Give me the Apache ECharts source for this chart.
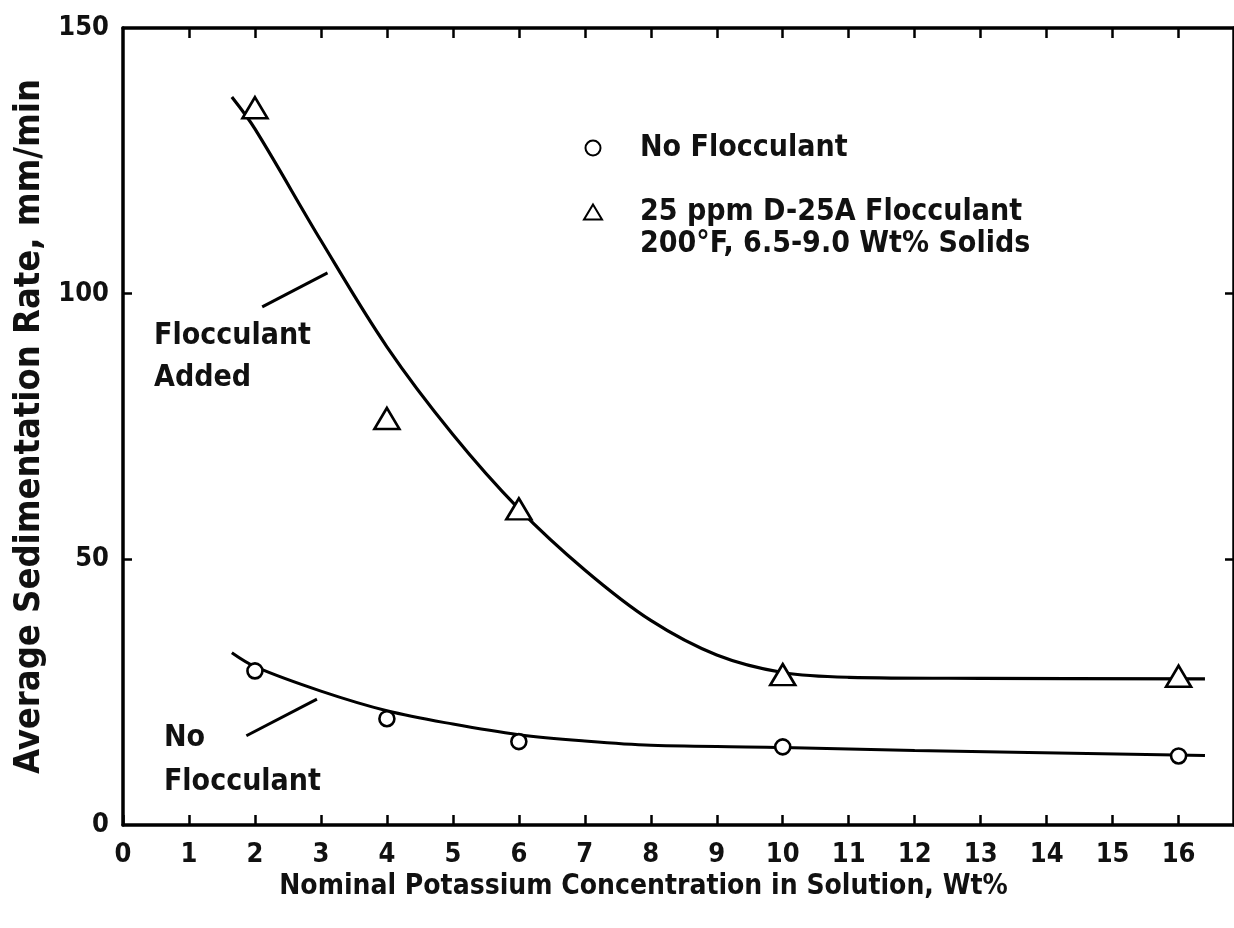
<!DOCTYPE html>
<html>
<head>
<meta charset="utf-8">
<script src="https://cdn.jsdelivr.net/npm/echarts@6/dist/echarts.min.js"></script>
<style>html,body{margin:0;padding:0;background:#fff}#c{width:1234px;height:928px}</style>
</head>
<body>
<div id="c"></div>
<script>
// Measured points
const xPoints = [2, 4, 6, 10, 16];
const noFlocculant = [29, 20, 15.7, 14.7, 13.0];
const withFlocculant = [135, 76.5, 59.5, 28.3, 28];
// Hand-drawn fitted curves
const curveAddedX = [1.65, 2, 3, 4, 5, 6, 7, 8, 9, 10, 11, 13, 16.4];
const curveAddedY = [137, 131, 110, 90, 73.5, 59.5, 48, 38.5, 32, 28.7, 27.8, 27.6, 27.5];
const curveNoneX = [1.65, 2, 3, 4, 5, 6, 7, 8, 10, 12, 16.4];
const curveNoneY = [32.4, 29.8, 25.2, 21.5, 19, 17, 15.8, 15.0, 14.6, 14.0, 13.1];
const xTickLabels = [0,1,2,3,4,5,6,7,8,9,10,11,12,13,14,15,16];
const yTickLabels = [0, 50, 100, 150];

const FONT = "'DejaVu Sans Condensed','Liberation Sans Narrow','Roboto Condensed','DejaVu Sans',sans-serif";
const zip = (a, b) => a.map((v, i) => [v, b[i]]);

const chart = echarts.init(document.getElementById('c'), null, {renderer: 'canvas'});
const axisLine = {show: true, onZero: false, lineStyle: {color: '#000', width: 3.5}};
const tick = {show: true, inside: true, length: 10, lineStyle: {color: '#000', width: 2.5}};
const lbl = {fontSize: 27, fontWeight: 'bold', color: '#111', fontFamily: FONT};

const option = {
  backgroundColor: '#fff',
  animation: false,
  textStyle: {fontFamily: FONT, color: '#111'},
  grid: {left: 123, right: 0, top: 28, bottom: 103, containLabel: false},
  xAxis: [{
    type: 'value', min: 0, max: 16.84, interval: 1, position: 'bottom',
    axisLine: axisLine,
    axisTick: Object.assign({}, tick, {customValues: xTickLabels}),
    axisLabel: Object.assign({customValues: xTickLabels, margin: 16}, lbl),
    splitLine: {show: false},
    name: 'Nominal Potassium Concentration in Solution, Wt%',
    nameLocation: 'middle', nameGap: 44,
    nameTextStyle: {fontSize: 28, fontWeight: 'bold', color: '#111', fontFamily: FONT, padding: [0, 70, 0, 0]}
  }, {
    type: 'value', min: 0, max: 16.84, interval: 1, position: 'top',
    axisLine: axisLine,
    axisTick: Object.assign({}, tick, {customValues: xTickLabels.slice(1)}),
    axisLabel: {show: false}, splitLine: {show: false}
  }],
  yAxis: [{
    type: 'value', min: 0, max: 150, interval: 50, position: 'left',
    axisLine: axisLine,
    axisTick: Object.assign({}, tick, {length: 9, customValues: [50, 100]}),
    axisLabel: Object.assign({customValues: yTickLabels, margin: 14}, lbl),
    splitLine: {show: false},
    name: 'Average Sedimentation Rate, mm/min',
    nameLocation: 'middle', nameGap: 72,
    nameTextStyle: {fontSize: 36, fontWeight: 'bold', color: '#111', fontFamily: FONT}
  }, {
    type: 'value', min: 0, max: 150, interval: 50, position: 'right',
    axisLine: axisLine,
    axisTick: Object.assign({}, tick, {length: 9, customValues: [50, 100]}),
    axisLabel: {show: false}, splitLine: {show: false}
  }],
  legend: {
    orient: 'vertical', left: 578, top: 128, itemGap: 34,
    itemWidth: 18, itemHeight: 15,
    textStyle: {fontSize: 30, fontWeight: 'bold', color: '#111', fontFamily: FONT, lineHeight: 30, padding: [0, 0, 0, 33]},
    data: ['No Flocculant', '25 ppm D-25A Flocculant']
  },
  series: [
    {
      type: 'line', name: 'curveAdded', data: zip(curveAddedX, curveAddedY),
      smooth: 0.35, showSymbol: false, silent: true,
      lineStyle: {color: '#000', width: 3.2}, z: 2,
      markLine: {
        silent: true, symbol: ['none', 'none'], label: {show: false},
        lineStyle: {color: '#000', width: 3, type: 'solid'},
        data: [
          [{coord: [2.11, 97.5]}, {coord: [3.10, 103.9]}],
          [{coord: [1.87, 16.8]}, {coord: [2.94, 23.7]}]
        ]
      }
    },
    {
      type: 'line', name: 'curveNone', data: zip(curveNoneX, curveNoneY),
      smooth: 0.35, showSymbol: false, silent: true,
      lineStyle: {color: '#000', width: 3}, z: 2
    },
    {
      type: 'scatter', name: 'No Flocculant', data: zip(xPoints, noFlocculant),
      symbol: 'circle', symbolSize: 15,
      itemStyle: {color: '#fff', borderColor: '#000', borderWidth: 2.6, opacity: 1}, z: 5
    },
    {
      type: 'scatter', name: '25 ppm D-25A Flocculant', data: zip(xPoints, withFlocculant),
      symbol: 'triangle', symbolSize: [25, 21],
      itemStyle: {color: '#fff', borderColor: '#000', borderWidth: 2.6, opacity: 1}, z: 5
    }
  ]
};
chart.setOption(option);

// Annotation texts placed in data coordinates
const notes = [
  {text: 'Flocculant', x: 0.47, y: 92},
  {text: 'Added', x: 0.47, y: 84},
  {text: 'No', x: 0.62, y: 16.4},
  {text: 'Flocculant', x: 0.62, y: 8.1}
];
const g = notes.map(n => {
  const p = chart.convertToPixel({xAxisIndex: 0, yAxisIndex: 0}, [n.x, n.y]);
  return {type: 'text', x: p[0], y: p[1],
    style: {text: n.text, fontSize: 30, fontWeight: 'bold', fontFamily: FONT, fill: '#111', verticalAlign: 'middle', align: 'left'}};
});
g.push({type: 'text', left: 640, top: 229,
  style: {text: '200°F, 6.5-9.0 Wt% Solids', fontSize: 30, fontWeight: 'bold', fontFamily: FONT, fill: '#111'}});
chart.setOption({graphic: g});
</script>
</body>
</html>
